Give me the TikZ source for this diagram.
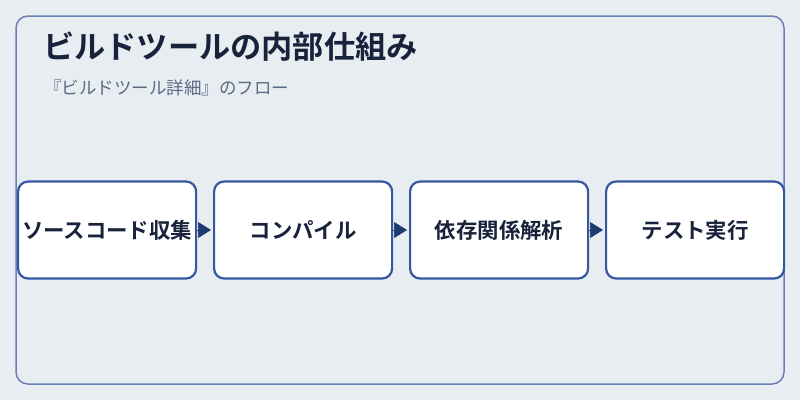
\documentclass[tikz,border=0pt]{standalone}
\usepackage{fontspec}
\newfontfamily\jp{Noto Sans CJK JP}
\newfontfamily\jpb{Noto Sans CJK JP Bold}
\usetikzlibrary{arrows.meta}
\definecolor{bgc}{HTML}{E8EDF2}
\definecolor{outerc}{HTML}{6A80B0}
\definecolor{boxc}{HTML}{3457A0}
\definecolor{arrc}{HTML}{1E3A6E}
\definecolor{titlec}{HTML}{18223A}
\definecolor{subc}{HTML}{5A6985}
\tikzset{
  stepbox/.style={draw=boxc, line width=2.2pt, fill=white, rounded corners=10pt,
    minimum width=178pt, minimum height=97pt, inner sep=0pt, anchor=west,
    font=\jpb\fontsize{21.4}{24}\selectfont, text=titlec},
  flow/.style={draw=arrc, line width=0.5pt, shorten >=2pt,
    -{Triangle[length=13pt,width=16pt,fill=arrc]}}
}
\begin{document}
\begin{tikzpicture}[x=1pt,y=-1pt]
\fill[bgc] (0,0) rectangle (800,400);
\useasboundingbox (0,0) rectangle (800,400);
\draw[outerc, line width=1.5pt, rounded corners=12pt] (16,16) rectangle (784,384);
\node[anchor=base west, inner sep=0pt, text=titlec, font=\jpb\fontsize{31.2}{36}\selectfont] (title) at (43,58) {ビルドツールの内部仕組み};
\node[anchor=base west, inner sep=0pt, text=subc, font=\jp\fontsize{17.5}{20}\selectfont] (sub) at (44,94) {『ビルドツール詳細』のフロー};
\node[stepbox] (a) at (17,230) {ソースコード収集};
\node[stepbox] (b) at (213,230) {コンパイル};
\node[stepbox] (c) at (409,230) {依存関係解析};
\node[stepbox] (d) at (605,230) {テスト実行};
\draw[flow] (a.east) -- (b.west);
\draw[flow] (b.east) -- (c.west);
\draw[flow] (c.east) -- (d.west);
\end{tikzpicture}
\end{document}
